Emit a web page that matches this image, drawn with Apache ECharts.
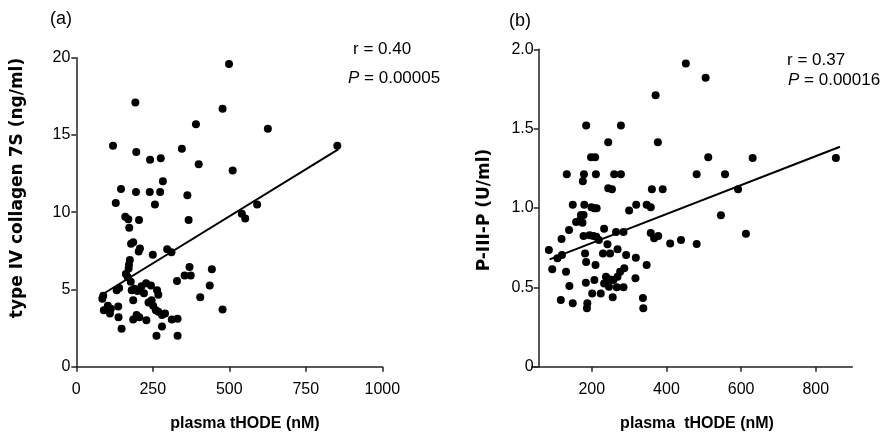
<!DOCTYPE html>
<html>
<head>
<meta charset="utf-8">
<script src="https://cdn.jsdelivr.net/npm/echarts@6/dist/echarts.min.js"></script>
<style>
html,body{margin:0;padding:0;background:#fff;}
#chart{width:881px;height:440px;}
</style>
</head>
<body>
<div id="chart"></div>
<script>
// ---- Data: panel (a) type IV collagen 7S vs plasma tHODE ----
const aX = [499,193,478,391,626,120,853,345,196,241,276,400,511,283,146,195,240,274,363,129,257,591,541,552,160,170,205,367,173,179,186,204,208,250,297,311,175,172,171,162,168,178,370,443,354,374,329,436,405,478,88,85,132,140,181,190,200,213,228,244,264,268,186,221,236,246,251,260,268,290,280,90,103,110,113,137,138,186,197,206,229,148,280,312,331,262,331];
const aY = [19.6,17.1,16.7,15.7,15.4,14.3,14.3,14.1,13.9,13.4,13.5,13.1,12.7,12.0,11.5,11.3,11.3,11.3,11.1,10.6,10.5,10.5,9.9,9.6,9.7,9.55,9.5,9.5,9.0,7.95,8.05,7.45,7.65,7.25,7.6,7.4,6.9,6.6,6.35,6.0,5.8,5.5,6.45,6.3,5.9,5.9,5.55,5.25,4.5,3.7,4.6,4.4,4.95,5.1,4.95,5.05,4.9,5.2,5.4,5.25,4.95,4.65,4.3,4.75,4.15,4.3,3.95,3.65,3.55,3.45,3.35,3.65,3.95,3.45,3.75,3.9,3.2,3.05,3.35,3.2,3.0,2.45,2.6,3.05,3.1,2.0,2.0];
const aFitX = [82, 856];
const aFitY = [4.64, 14.07];
const aXTicks = [0, 250, 500, 750, 1000];
const aYTicks = [0, 5, 10, 15, 20];

// ---- Data: panel (b) P-III-P vs plasma tHODE ----
const bX = [452,505,371,185,278,244,377,198,209,512,631,854,133,179,176,211,260,278,481,557,244,254,361,390,592,149,180,199,207,213,300,319,347,358,546,171,178,158,169,175,139,119,178,194,204,212,219,233,265,285,358,367,378,410,439,481,613,85,108,120,94,131,140,117,149,182,185,210,242,230,249,269,292,318,347,184,207,238,249,258,269,276,287,233,246,267,285,317,201,224,256,188,187,337,338];
const bY = [1.91,1.82,1.71,1.52,1.52,1.415,1.415,1.32,1.32,1.32,1.315,1.315,1.212,1.212,1.168,1.212,1.212,1.212,1.212,1.212,1.124,1.118,1.118,1.118,1.118,1.021,1.021,1.005,0.998,0.998,0.985,1.021,1.021,1.005,0.954,0.956,0.956,0.912,0.924,0.907,0.861,0.805,0.824,0.828,0.824,0.819,0.798,0.87,0.849,0.849,0.842,0.809,0.824,0.777,0.798,0.773,0.838,0.735,0.683,0.704,0.614,0.599,0.508,0.42,0.4,0.714,0.66,0.641,0.771,0.714,0.714,0.74,0.704,0.687,0.641,0.529,0.546,0.567,0.55,0.546,0.567,0.599,0.62,0.525,0.504,0.5,0.5,0.557,0.462,0.462,0.437,0.4,0.368,0.433,0.368];
const bFitX = [87, 865];
const bFitY = [0.676, 1.386];
const bXTicks = [200, 400, 600, 800];
const bYTicks = [0, 0.5, 1.0, 1.5, 2.0];
const bYTickLabels = ['0', '0.5', '1.0', '1.5', '2.0'];

const zip = (xs, ys) => xs.map((x, i) => [x, ys[i]]);

const axisColor = '#222';
const numFont = 'Liberation Sans, Arial, sans-serif';
const lineStyle = {color: axisColor, width: 1.5};
const lblSize = 16;

const chart = echarts.init(document.getElementById('chart'), null, {renderer: 'canvas'});

const option = {
  backgroundColor: '#fff',
  animation: false,
  grid: [
    {left: 76.3, top: 57.7, width: 306, height: 309},
    {left: 531.7, top: 49.3, width: 320.6, height: 317.4}
  ],
  xAxis: [
    {
      gridIndex: 0, type: 'value', min: aXTicks[0], max: aXTicks[aXTicks.length - 1], interval: 250,
      axisLine: {show: true, onZero: false, lineStyle: lineStyle},
      axisTick: {show: true, length: 5, lineStyle: lineStyle},
      axisLabel: {margin: 15, fontSize: lblSize, color: '#000', fontFamily: numFont, formatter: v => String(v)},
      splitLine: {show: false}
    },
    {
      gridIndex: 1, type: 'value', min: 39, max: 898,
      axisLine: {show: true, onZero: false, lineStyle: lineStyle},
      axisTick: {show: true, length: 5, lineStyle: lineStyle, customValues: bXTicks},
      axisLabel: {margin: 15, fontSize: lblSize, color: '#000', fontFamily: numFont, customValues: bXTicks, formatter: v => String(v)},
      splitLine: {show: false}
    }
  ],
  yAxis: [
    {
      gridIndex: 0, type: 'value', min: aYTicks[0], max: aYTicks[aYTicks.length - 1], interval: 5,
      axisLine: {show: true, onZero: false, lineStyle: lineStyle},
      axisTick: {show: true, length: 5, lineStyle: lineStyle},
      axisLabel: {margin: 6, fontSize: lblSize, color: '#000', fontFamily: numFont},
      splitLine: {show: false}
    },
    {
      gridIndex: 1, type: 'value', min: bYTicks[0], max: bYTicks[bYTicks.length - 1], interval: 0.5,
      offset: -7,
      axisLine: {show: true, onZero: false, lineStyle: lineStyle},
      axisTick: {show: true, length: 5, lineStyle: lineStyle},
      axisLabel: {
        margin: 5, fontSize: lblSize, color: '#000', fontFamily: numFont,
        formatter: v => bYTickLabels[bYTicks.indexOf(Math.round(v * 10) / 10)] ?? String(v)
      },
      splitLine: {show: false}
    }
  ],
  series: [
    {
      type: 'scatter', xAxisIndex: 0, yAxisIndex: 0, data: zip(aX, aY),
      symbol: 'circle', symbolSize: 8, itemStyle: {color: '#000', opacity: 1}, z: 3
    },
    {
      type: 'line', xAxisIndex: 0, yAxisIndex: 0, data: zip(aFitX, aFitY),
      symbol: 'none', lineStyle: {color: '#000', width: 2}, z: 2
    },
    {
      type: 'scatter', xAxisIndex: 1, yAxisIndex: 1, data: zip(bX, bY),
      symbol: 'circle', symbolSize: 8, itemStyle: {color: '#000', opacity: 1}, z: 3
    },
    {
      type: 'line', xAxisIndex: 1, yAxisIndex: 1, data: zip(bFitX, bFitY),
      symbol: 'none', lineStyle: {color: '#000', width: 2}, z: 2
    }
  ],
  graphic: [
    {type: 'text', x: 61, y: 19, style: {text: '(a)', font: '18px "Liberation Sans", Arial', fill: '#000', align: 'center', verticalAlign: 'middle', textAlign: 'center', textVerticalAlign: 'middle'}},
    {type: 'text', x: 520, y: 21, style: {text: '(b)', font: '18px "Liberation Sans", Arial', fill: '#000', align: 'center', verticalAlign: 'middle', textAlign: 'center', textVerticalAlign: 'middle'}},
    {type: 'text', x: 245, y: 424, style: {text: 'plasma tHODE (nM)', font: 'bold 16px "Liberation Sans", Arial', fill: '#000', align: 'center', verticalAlign: 'middle', textAlign: 'center', textVerticalAlign: 'middle'}},
    {type: 'text', x: 697, y: 424, style: {text: 'plasma  tHODE (nM)', font: 'bold 16px "Liberation Sans", Arial', fill: '#000', align: 'center', verticalAlign: 'middle', textAlign: 'center', textVerticalAlign: 'middle'}},
    {type: 'text', x: 18, y: 188, rotation: Math.PI / 2, style: {text: 'type IV collagen 7S (ng/ml)', font: 'bold 17px "DejaVu Sans"', fill: '#000', align: 'center', verticalAlign: 'middle', textAlign: 'center', textVerticalAlign: 'middle'}},
    {type: 'text', x: 485, y: 210, rotation: Math.PI / 2, style: {text: 'P-III-P (U/ml)', font: 'bold 17px "DejaVu Sans"', fill: '#000', align: 'center', verticalAlign: 'middle', textAlign: 'center', textVerticalAlign: 'middle'}},
    {type: 'text', x: 353, y: 49, style: {text: 'r = 0.40', font: '17px "Liberation Sans", Arial', fill: '#000', align: 'left', verticalAlign: 'middle', textAlign: 'left', textVerticalAlign: 'middle'}},
    {type: 'text', x: 348, y: 78, style: {text: '{i|P} = 0.00005', font: '17px "Liberation Sans", Arial', fill: '#000', align: 'left', verticalAlign: 'middle', textAlign: 'left', textVerticalAlign: 'middle',
      rich: {i: {fontStyle: 'italic', fontSize: 17, fontFamily: 'Liberation Sans'}}}},
    {type: 'text', x: 787, y: 60, style: {text: 'r = 0.37', font: '17px "Liberation Sans", Arial', fill: '#000', align: 'left', verticalAlign: 'middle', textAlign: 'left', textVerticalAlign: 'middle'}},
    {type: 'text', x: 788, y: 80, style: {text: '{i|P} = 0.00016', font: '17px "Liberation Sans", Arial', fill: '#000', align: 'left', verticalAlign: 'middle', textAlign: 'left', textVerticalAlign: 'middle',
      rich: {i: {fontStyle: 'italic', fontSize: 17, fontFamily: 'Liberation Sans'}}}}
  ]
};
chart.setOption(option);
</script>
</body>
</html>
